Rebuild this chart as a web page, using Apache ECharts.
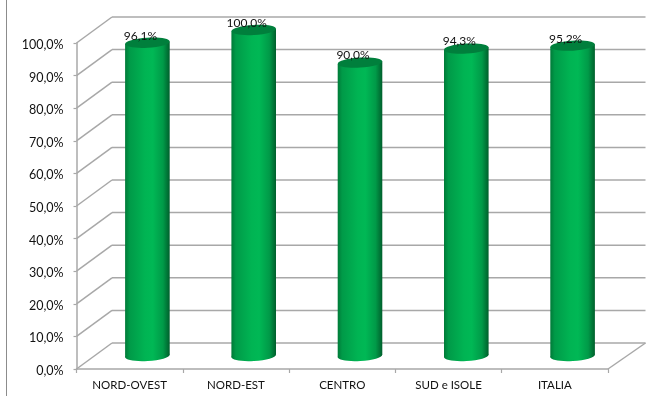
<!DOCTYPE html>
<html><head><meta charset="utf-8">
<style>html,body{margin:0;padding:0;background:#fff}#c{width:662px;height:396px}</style>
<script src="https://cdn.jsdelivr.net/npm/echarts@6/dist/echarts.min.js"></script>
</head><body><div id="c"></div>
<script>
const categories = ['NORD-OVEST','NORD-EST','CENTRO','SUD e ISOLE','ITALIA'];
const values = [96.1,100.0,90.0,94.3,95.2];
const yTicks = [0,10,20,30,40,50,60,70,80,90,100];
const fontFamily = 'Lato, "Open Sans", sans-serif';
const DX = 35.5, DY = 26, RX = 22.3, RY = 5, TILT = 0.06, LINE = '#a8a8a8';
const fmt = v => v.toFixed(1).replace('.', ',') + '%';
const chart = echarts.init(document.getElementById('c'), null, {renderer:'canvas'});
const bodyGrad = new echarts.graphic.LinearGradient(0,0,1,0,[
  {offset:0,color:'#007a38'},{offset:0.1,color:'#009a48'},{offset:0.45,color:'#00b453'},
  {offset:0.62,color:'#00b855'},{offset:0.85,color:'#009a48'},{offset:1,color:'#005f2c'}]);
function wall(params, api){
  const v = api.value(0);
  const p = api.coord([0, v]);
  const s = params.coordSys;
  const x0 = s.x, x1 = s.x + s.width, y = p[1];
  const style = {stroke:LINE, lineWidth:1.5, fill:null};
  const children = [
    {type:'line',shape:{x1:x0,y1:y,x2:x0+DX,y2:y-DY},style},
    {type:'line',shape:{x1:x0+DX,y1:y-DY,x2:x1+DX+2,y2:y-DY},style}
  ];
  if (v === 0) children.push({type:'line',shape:{x1:x1,y1:y,x2:x1+DX+2,y2:y-DY},style});
  return {type:'group',children};
}
function bar(params, api){
  const i = api.value(0), v = api.value(1);
  const t = api.coord([i, v]), b = api.coord([i, 0]);
  const cx = t[0] + DX/2, ty = t[1] - DY/2, by = b[1] - DY/2;
  const tiltDy = RX * TILT;
  return {type:'group',children:[
    {type:'ellipse',shape:{cx,cy:by,rx:RX,ry:RY},rotation:TILT,originX:cx,originY:by,style:{fill:bodyGrad}},
    {type:'polygon',shape:{points:[[cx-RX,ty+tiltDy],[cx+RX,ty-tiltDy],[cx+RX,by-tiltDy],[cx-RX,by+tiltDy]]},style:{fill:bodyGrad}},
    {type:'ellipse',shape:{cx,cy:ty,rx:RX,ry:RY},rotation:TILT,originX:cx,originY:ty,style:{fill:'#007f3c'}},
    {type:'text',style:{text:fmt(v),x:cx-7,y:ty-7,align:'center',verticalAlign:'middle',fill:'#111',font:'12px '+fontFamily}}
  ]};
}
chart.setOption({
  animation:false,
  backgroundColor:'#fff',
  grid:{left:76.5,right:54,top:43,bottom:27},
  xAxis:{type:'category',data:categories,
    axisLine:{lineStyle:{color:LINE,width:1.5}},
    axisTick:{show:true,alignWithLabel:false,length:4,lineStyle:{color:LINE,width:1.2}},
    axisLabel:{color:'#111',fontFamily,fontSize:11.5,margin:10},splitLine:{show:false}},
  yAxis:{type:'value',min:0,max:100,interval:10,
    axisLine:{show:true,lineStyle:{color:LINE,width:1.5}},
    axisTick:{show:true,length:3,lineStyle:{color:LINE,width:1.2}},
    axisLabel:{color:'#111',fontFamily,fontSize:12.5,margin:13,verticalAlign:'top',lineHeight:4,formatter:v=>fmt(v)},
    splitLine:{show:false}},
  graphic:[{type:'line',silent:true,shape:{x1:6.5,y1:0,x2:6.5,y2:396},style:{stroke:'#8c8c8c',lineWidth:1}}],
  series:[
    {type:'custom',coordinateSystem:'cartesian2d',renderItem:wall,data:yTicks.map(v=>[v]),encode:{y:0},silent:true,z:1,clip:false},
    {type:'custom',coordinateSystem:'cartesian2d',renderItem:bar,data:values.map((v,i)=>[i,v]),encode:{x:0,y:1},silent:true,z:3,clip:false}
  ]
});
</script></body></html>
